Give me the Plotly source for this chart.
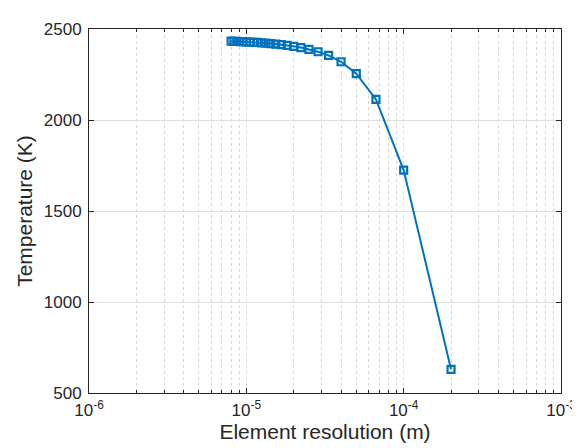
import plotly.graph_objects as go

# Element resolution (m) and temperature (K)
resolution_m = [2.0e-4, 1.0e-4, 6.667e-5, 5.0e-5, 4.0e-5, 3.333e-5, 2.857e-5,
                2.5e-5, 2.222e-5, 2.0e-5, 1.818e-5, 1.667e-5, 1.538e-5,
                1.429e-5, 1.333e-5, 1.25e-5, 1.176e-5, 1.111e-5, 1.053e-5,
                1.0e-5, 9.52e-6, 9.09e-6, 8.70e-6, 8.33e-6, 8.0e-6]
temperature_K = [630, 1725, 2113, 2255, 2320, 2355, 2375,
                 2388, 2398, 2405, 2410, 2414, 2417,
                 2420, 2422, 2424, 2426, 2427, 2428,
                 2429, 2430, 2431, 2432, 2432, 2433]

x_tick_vals = [1e-6, 1e-5, 1e-4, 1e-3]
x_tick_text = ["10<sup>-6</sup>", "10<sup>-5</sup>", "10<sup>-4</sup>", "10<sup>-3</sup>"]
y_tick_vals = [500, 1000, 1500, 2000, 2500]

axis_color = "#262626"
font_family = "Liberation Sans, Arial, sans-serif"

fig = go.Figure()
fig.add_trace(go.Scatter(
    x=resolution_m, y=temperature_K, mode="lines+markers",
    line=dict(color="#0072BD", width=2),
    marker=dict(symbol="square-open", size=7, color="#0072BD",
                line=dict(width=2.2, color="#0072BD")),
    showlegend=False,
))

fig.update_layout(
    width=580, height=448,
    margin=dict(l=81, r=23, t=14, b=63),
    paper_bgcolor="white", plot_bgcolor="white",
    font=dict(family=font_family, color=axis_color, size=17),
)
fig.update_xaxes(
    type="log", range=[-6, -3],
    tickvals=x_tick_vals, ticktext=x_tick_text,
    ticks="inside", ticklen=5, tickcolor=axis_color,
    showline=True, linecolor=axis_color, linewidth=1, mirror="ticks",
    showgrid=True, gridcolor="#dedede", gridwidth=1, griddash="dot",
    zeroline=False,
    minor=dict(dtick="D1", ticks="inside", ticklen=3, tickcolor=axis_color,
               showgrid=True, gridcolor="#d6d6d6", griddash="dot", gridwidth=1),
    title=dict(text="Element resolution (m)", font=dict(size=21), standoff=2),
    tickfont=dict(size=17),
    ticklabelstandoff=2,
)
fig.update_yaxes(
    range=[500, 2500], tickvals=y_tick_vals,
    ticks="inside", ticklen=5, tickcolor=axis_color,
    showline=True, linecolor=axis_color, linewidth=1, mirror="ticks",
    showgrid=True, gridcolor="#dedede", gridwidth=1,
    zeroline=False,
    title=dict(text="Temperature (K)", font=dict(size=21), standoff=5),
    tickfont=dict(size=17),
    ticklabelstandoff=3,
)

fig.write_html("out.html")
